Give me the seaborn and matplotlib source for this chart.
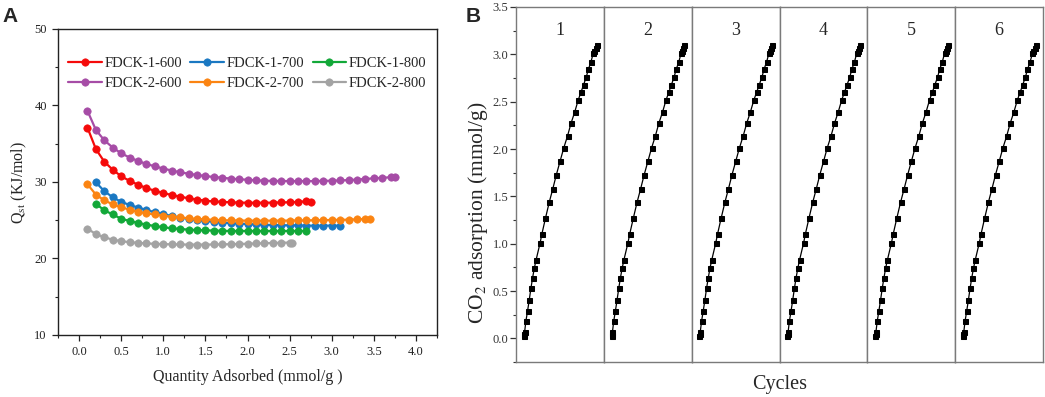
import numpy as np
import pandas as pd
import seaborn as sns
import matplotlib.pyplot as plt
from matplotlib.ticker import MultipleLocator

# ------------------------------------------------------------------
# Panel A data: isosteric heat of adsorption vs. quantity adsorbed
# ------------------------------------------------------------------
q_1_600 = [0.1, 0.2, 0.3, 0.4, 0.5, 0.6, 0.7, 0.8, 0.9, 1.0, 1.1, 1.2, 1.3, 1.4,
           1.5, 1.6, 1.7, 1.8, 1.9, 2.0, 2.1, 2.2, 2.3, 2.4, 2.5, 2.6, 2.7, 2.75]
h_1_600 = [37.1, 34.3, 32.65, 31.6, 30.75, 30.15, 29.65, 29.2, 28.85, 28.55, 28.3,
           28.08, 27.87, 27.7, 27.56, 27.45, 27.4, 27.35, 27.3, 27.3, 27.28, 27.3,
           27.3, 27.33, 27.35, 27.4, 27.47, 27.35]

q_1_700 = [0.2, 0.3, 0.4, 0.5, 0.6, 0.7, 0.8, 0.9, 1.0, 1.1, 1.2, 1.3, 1.4, 1.5,
           1.6, 1.7, 1.8, 1.9, 2.0, 2.1, 2.2, 2.3, 2.4, 2.5, 2.6, 2.7, 2.8, 2.9,
           3.0, 3.1]
h_1_700 = [29.95, 28.8, 28.0, 27.4, 27.0, 26.65, 26.35, 26.05, 25.8, 25.55, 25.35,
           25.2, 25.05, 24.9, 24.8, 24.7, 24.62, 24.55, 24.5, 24.45, 24.4, 24.38,
           24.35, 24.33, 24.32, 24.3, 24.3, 24.3, 24.3, 24.3]

q_1_800 = [0.2, 0.3, 0.4, 0.5, 0.6, 0.7, 0.8, 0.9, 1.0, 1.1, 1.2, 1.3, 1.4, 1.5,
           1.6, 1.7, 1.8, 1.9, 2.0, 2.1, 2.2, 2.3, 2.4, 2.5, 2.6, 2.7]
h_1_800 = [27.15, 26.3, 25.75, 25.2, 24.9, 24.65, 24.42, 24.25, 24.08, 23.95,
           23.86, 23.77, 23.72, 23.68, 23.65, 23.62, 23.6, 23.6, 23.6, 23.6, 23.6,
           23.6, 23.6, 23.6, 23.6, 23.62]

q_2_600 = [0.1, 0.2, 0.3, 0.4, 0.5, 0.6, 0.7, 0.8, 0.9, 1.0, 1.1, 1.2, 1.3, 1.4,
           1.5, 1.6, 1.7, 1.8, 1.9, 2.0, 2.1, 2.2, 2.3, 2.4, 2.5, 2.6, 2.7, 2.8,
           2.9, 3.0, 3.1, 3.2, 3.3, 3.4, 3.5, 3.6, 3.7, 3.75]
h_2_600 = [39.3, 36.8, 35.45, 34.5, 33.75, 33.2, 32.75, 32.35, 32.05, 31.75, 31.5,
           31.27, 31.08, 30.92, 30.78, 30.65, 30.55, 30.45, 30.35, 30.3, 30.22,
           30.17, 30.15, 30.13, 30.12, 30.12, 30.12, 30.12, 30.15, 30.17, 30.2,
           30.25, 30.32, 30.4, 30.48, 30.55, 30.62, 30.65]

q_2_700 = [0.1, 0.2, 0.3, 0.4, 0.5, 0.6, 0.7, 0.8, 0.9, 1.0, 1.1, 1.2, 1.3, 1.4,
           1.5, 1.6, 1.7, 1.8, 1.9, 2.0, 2.1, 2.2, 2.3, 2.4, 2.5, 2.6, 2.7, 2.8,
           2.9, 3.0, 3.1, 3.2, 3.3, 3.4, 3.45]
h_2_700 = [29.7, 28.35, 27.6, 27.08, 26.7, 26.38, 26.12, 25.9, 25.77, 25.6, 25.46,
           25.38, 25.25, 25.16, 25.12, 25.05, 25.0, 24.98, 24.96, 24.95, 24.95,
           24.95, 24.95, 24.95, 24.96, 24.97, 24.98, 25.0, 25.02, 25.03, 25.05,
           25.08, 25.12, 25.16, 25.16]

q_2_800 = [0.1, 0.2, 0.3, 0.4, 0.5, 0.6, 0.7, 0.8, 0.9, 1.0, 1.1, 1.2, 1.3, 1.4,
           1.5, 1.6, 1.7, 1.8, 1.9, 2.0, 2.1, 2.2, 2.3, 2.4, 2.5, 2.53]
h_2_800 = [23.9, 23.18, 22.77, 22.46, 22.27, 22.13, 22.05, 21.97, 21.92, 21.88,
           21.85, 21.83, 21.82, 21.82, 21.82, 21.83, 21.85, 21.87, 21.9, 21.93,
           21.96, 22.0, 22.03, 22.06, 22.08, 22.08]

series_names = ["FDCK-1-600", "FDCK-1-700", "FDCK-1-800",
                "FDCK-2-600", "FDCK-2-700", "FDCK-2-800"]
series_q = [q_1_600, q_1_700, q_1_800, q_2_600, q_2_700, q_2_800]
series_h = [h_1_600, h_1_700, h_1_800, h_2_600, h_2_700, h_2_800]
series_colors = ["#f50a0a", "#1a78c2", "#12a838", "#a64ca6", "#fb8412", "#a3a3a3"]

# ------------------------------------------------------------------
# Panel B data: CO2 adsorption isotherm over 6 cycles
# ------------------------------------------------------------------
cycles = ["1", "2", "3", "4", "5", "6"]
pressure = [0.005, 0.012, 0.018, 0.035, 0.058, 0.08, 0.104, 0.127, 0.15, 0.175,
            0.23, 0.253, 0.303, 0.355, 0.403, 0.452, 0.502, 0.552, 0.605, 0.651,
            0.702, 0.751, 0.788, 0.824, 0.86, 0.888, 0.924, 0.955, 0.968, 0.987, 1.0]
uptake = [0.025, 0.05, 0.07, 0.18, 0.29, 0.40, 0.53, 0.64, 0.74, 0.83, 1.01, 1.10,
          1.27, 1.44, 1.58, 1.73, 1.87, 2.01, 2.14, 2.27, 2.39, 2.52, 2.60, 2.68,
          2.76, 2.84, 2.92, 3.01, 3.04, 3.07, 3.10]

# ------------------------------------------------------------------
# style
# ------------------------------------------------------------------
sns.set_style("ticks")
plt.rcParams["font.family"] = ["Liberation Serif", "DejaVu Serif"]
plt.rcParams["mathtext.fontset"] = "stix"

fig = plt.figure(figsize=(10.45, 3.97), dpi=100)

# ---------------- Panel A ----------------
axA = fig.add_axes([0.0555, 0.1562, 0.3627, 0.7708])
for name, q, h, c in zip(series_names, series_q, series_h, series_colors):
    df = pd.DataFrame({"q": q, "h": h})
    sns.lineplot(data=df, x="q", y="h", ax=axA, color=c, marker="o",
                 markersize=5.3, markeredgecolor=c, markeredgewidth=0.5,
                 linewidth=1.6, label=name, sort=False, errorbar=None)

axA.set_xlim(-0.25, 4.25)
axA.set_ylim(10, 50)
axA.xaxis.set_major_locator(MultipleLocator(0.5))
axA.xaxis.set_minor_locator(MultipleLocator(0.25))
axA.yaxis.set_major_locator(MultipleLocator(10))
axA.yaxis.set_minor_locator(MultipleLocator(5))
axA.tick_params(which="major", direction="out", length=4, width=0.9,
                labelsize=9, colors="#222222", pad=4)
axA.tick_params(which="minor", direction="out", length=2.5, width=0.8,
                colors="#222222")
for s in axA.spines.values():
    s.set_visible(True)
    s.set_color("#222222")
    s.set_linewidth(1.0)
axA.set_xlabel("Quantity Adsorbed (mmol/g )", fontsize=11.5, labelpad=8)
axA.set_ylabel("Q$_{\\rm st}$ (KJ/mol)", fontsize=11.5, labelpad=4)

# legend rows: FDCK-1-* on top, FDCK-2-* below (ncol fills column-wise)
handles, labels = axA.get_legend_handles_labels()
order = [0, 3, 1, 4, 2, 5]
axA.legend([handles[i] for i in order], [labels[i] for i in order],
           loc="upper center", bbox_to_anchor=(0.5, 0.927), ncol=3,
           frameon=False, fontsize=10.5, handlelength=2.3, handletextpad=0.2,
           columnspacing=0.55, labelspacing=0.45, borderaxespad=0)

# ---------------- Panel B ----------------
b_left, b_right = 516 / 1045, 1043 / 1045
b_bottom, b_top = 35 / 397, 390 / 397
w = (b_right - b_left) / len(cycles)
grey = "#7a7a7a"
axesB = []
for i, cyc in enumerate(cycles):
    ax = fig.add_axes([b_left + i * w, b_bottom, w, b_top - b_bottom],
                      sharey=axesB[0] if axesB else None)
    df = pd.DataFrame({"p": pressure, "n": uptake})
    sns.lineplot(data=df, x="p", y="n", ax=ax, color="black", marker="s",
                 markersize=3.6, markeredgecolor="black", linewidth=0.9,
                 sort=False, errorbar=None)
    ax.set_xlim(-0.1, 1.1)
    ax.set_xticks([])
    ax.set_xlabel("")
    ax.set_ylabel("")
    ax.text(0.5, 0.935, cyc, transform=ax.transAxes, ha="center", va="center",
            fontsize=13)
    for s in ax.spines.values():
        s.set_visible(True)
        s.set_color(grey)
        s.set_linewidth(1.0)
    axesB.append(ax)

ax0 = axesB[0]
ax0.set_ylim(-0.25, 3.5)
ax0.yaxis.set_major_locator(MultipleLocator(0.5))
ax0.yaxis.set_minor_locator(MultipleLocator(0.25))
ax0.tick_params(axis="y", which="major", direction="out", length=4, width=0.9,
                labelsize=9, colors="#333333", pad=1.5)
ax0.tick_params(axis="y", which="minor", direction="out", length=2.5, width=0.8,
                colors="#333333")
ax0.set_ylabel("CO$_2$ adsorption (mmol/g)", fontsize=15.5)
ax0.yaxis.set_label_coords(-0.3, 0.42)
for ax in axesB[1:]:
    ax.tick_params(axis="y", which="both", left=False, labelleft=False)

fig.text((b_left + b_right) / 2, 0.032, "Cycles", ha="center", va="center",
         fontsize=14.5)

# panel letters
fig.text(0.002, 0.958, "A", fontsize=15, fontweight="bold",
         family=["Liberation Sans", "DejaVu Sans"], ha="left", va="center")
fig.text(0.446, 0.958, "B", fontsize=15, fontweight="bold",
         family=["Liberation Sans", "DejaVu Sans"], ha="left", va="center")

fig.savefig("out.png", dpi=100)
